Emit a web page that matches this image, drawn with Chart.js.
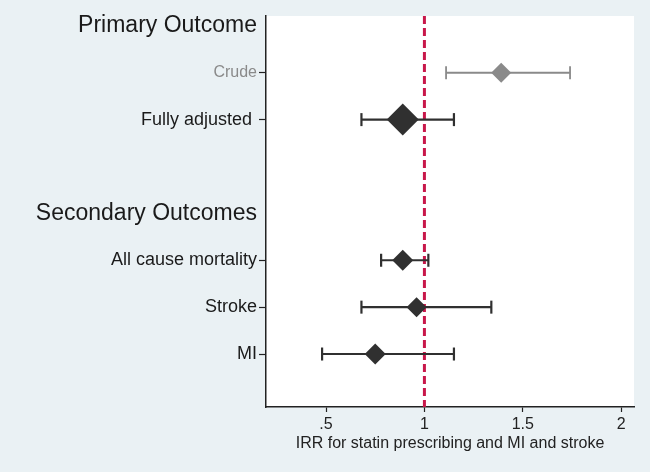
<!DOCTYPE html>
<html>
<head>
<meta charset="utf-8">
<script src="https://cdn.jsdelivr.net/npm/chart.js@4.4.1/dist/chart.umd.min.js"></script>
<style>
  html, body { margin: 0; padding: 0; background: #eaf1f4; }
  #wrap { width: 650px; height: 472px; }
</style>
</head>
<body>
<div id="wrap"><canvas id="forest"></canvas></div>
<script>
// Row labels, top to bottom (index = row position on the y axis)
const rowLabels = ["Primary Outcome", "Crude", "Fully adjusted ", "", "Secondary Outcomes", "All cause mortality", "Stroke", "MI"];
const headingRows = [0, 4];
const tickRows = [0, 1, 2, 4, 5, 6, 7];

// Estimates (IRR) with 95% CI
const estRows = [1, 2, 5, 6, 7];
const estimates = [1.39, 0.89, 0.89, 0.96, 0.75];
const lowerCI = [1.11, 0.68, 0.78, 0.68, 0.48];
const upperCI = [1.74, 1.15, 1.02, 1.34, 1.15];
const markerSize = [10, 16, 10.5, 10, 10.5];

const xTicks = [0.5, 1, 1.5, 2];
const xTickLabels = [".5", "1", "1.5", "2"];
const refLine = 1;

const GREY = "#8a8a8a";
const DARK = "#303030";
const FONT = "Liberation Sans, Arial, sans-serif";

function rowColor(i) {
  return estRows[i] === 1 ? GREY : DARK;
}

const yMin = -0.21;
const yMax = 8.13;

const datasets = [];

// Reference line (drawn behind everything)
datasets.push({
  type: "line",
  data: [{ x: refLine, y: yMin }, { x: refLine, y: yMax }],
  borderColor: "#c8174a",
  borderWidth: 3,
  borderDash: [8, 4],
  pointRadius: 0,
  order: 3
});

// Confidence intervals with caps
estRows.forEach((row, i) => {
  datasets.push({
    type: "line",
    data: [{ x: lowerCI[i], y: row }, { x: upperCI[i], y: row }],
    borderColor: rowColor(i),
    borderWidth: row === 1 ? 1.8 : 2.2,
    pointStyle: "line",
    rotation: 90,
    pointRadius: 6.5,
    pointBorderWidth: row === 1 ? 1.8 : 2.2,
    pointBorderColor: rowColor(i),
    order: 2
  });
});

// Point estimates
datasets.push({
  type: "scatter",
  data: estRows.map((row, i) => ({ x: estimates[i], y: row })),
  pointStyle: "rectRot",
  pointRadius: markerSize,
  pointBackgroundColor: estRows.map((r, i) => rowColor(i)),
  pointBorderColor: estRows.map((r, i) => rowColor(i)),
  pointBorderWidth: 0,
  order: 1
});

const plotBg = {
  id: "plotBg",
  beforeDraw(chart) {
    const { ctx, chartArea } = chart;
    ctx.save();
    ctx.fillStyle = "#ffffff";
    ctx.fillRect(chartArea.left, chartArea.top, chartArea.right - chartArea.left, chartArea.bottom - chartArea.top);
    ctx.restore();
  }
};

new Chart(document.getElementById("forest"), {
  type: "scatter",
  data: { datasets },
  plugins: [plotBg],
  options: {
    responsive: true,
    maintainAspectRatio: false,
    animation: false,
    devicePixelRatio: 1,
    layout: { padding: { top: 15, right: 15, left: 0, bottom: 0 } },
    plugins: {
      legend: { display: false },
      tooltip: { enabled: false }
    },
    scales: {
      x: {
        type: "linear",
        min: 0.195,
        max: 2.065,
        afterBuildTicks: (scale) => {
          scale.ticks = xTicks.map((v) => ({ value: v }));
        },
        afterFit: (scale) => { scale.height = 65; },
        ticks: {
          color: "#222",
          font: { family: FONT, size: 16 },
          padding: 3,
          maxRotation: 0,
          callback: (v) => {
            const k = xTicks.indexOf(v);
            return k >= 0 ? xTickLabels[k] : "";
          }
        },
        grid: {
          drawOnChartArea: false,
          tickLength: 5,
          tickColor: "#222",
          tickWidth: 1.2
        },
        border: { color: "#222", width: 1.5 },
        title: {
          display: true,
          text: "IRR for statin prescribing and MI and stroke",
          color: "#222",
          font: { family: FONT, size: 16 },
          padding: { top: 0, bottom: 19 }
        }
      },
      y: {
        type: "linear",
        reverse: true,
        min: yMin,
        max: yMax,
        afterBuildTicks: (scale) => {
          scale.ticks = tickRows.map((v) => ({ value: v }));
        },
        afterFit: (scale) => { scale.width = 266; },
        ticks: {
          padding: 2,
          autoSkip: false,
          callback: (v) => rowLabels[v] || "",
          color: (ctx) => (ctx.tick && ctx.tick.value === 1 ? GREY : "#1a1a1a"),
          font: (ctx) => {
            const v = ctx.tick ? ctx.tick.value : -1;
            let size = 18;
            if (headingRows.includes(v)) size = 23;
            else if (v === 1) size = 16;
            return { family: FONT, size };
          }
        },
        grid: {
          drawOnChartArea: false,
          tickLength: 7,
          tickWidth: 1.2,
          tickColor: (ctx) => (ctx.tick && headingRows.includes(ctx.tick.value) ? "rgba(0,0,0,0)" : "#222")
        },
        border: { color: "#222", width: 1.5 }
      }
    }
  }
});
</script>
</body>
</html>
